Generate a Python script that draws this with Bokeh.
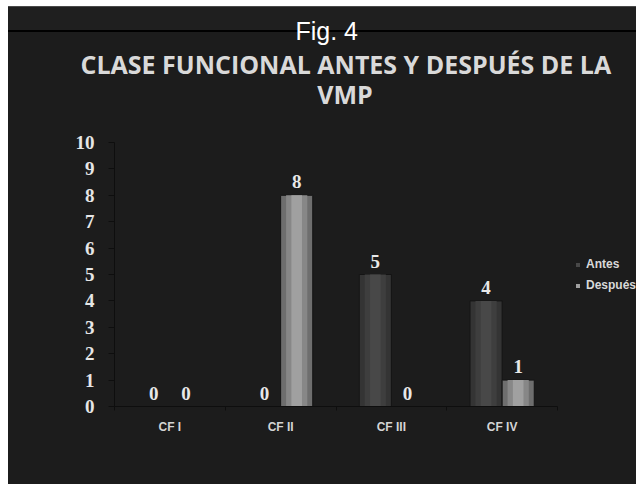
from bokeh.plotting import figure
from bokeh.models import (Range1d, FixedTicker, LinearAxis, Label, Title, Legend, LegendItem,
                          LabelSet, ColumnDataSource)
from bokeh.embed import file_html
from bokeh.resources import INLINE

# ---- data ----
categories = ["CF I", "CF II", "CF III", "CF IV"]
series_names = ["Antes", "Después"]
antes = [0, 0, 5, 4]
despues = [0, 8, 0, 1]
y_ticks = [0, 1, 2, 3, 4, 5, 6, 7, 8, 9, 10]
y_max = 10
fig_label = "Fig. 4"
title_line1 = "CLASE FUNCIONAL ANTES Y DESPUÉS  DE LA"
title_line2 = "VMP"

BG = "#1c1c1c"
W, H = 636, 484
PLOT_LEFT, PLOT_RIGHT = 114, 557   # pixel extent of the category area
PLOT_TOP, PLOT_BOTTOM = 142, 406   # pixel extent of the 0..10 value axis
FRAME_TOP = 80                     # frame extends upward so the second title line fits inside
n = len(categories)
# each category spans 2 units: centers at odd numbers, boundaries at even
centers = [2 * i + 1 for i in range(n)]
bw = 0.58
x_antes = [c - bw / 2 for c in centers]
x_desp = [c + bw / 2 for c in centers]
x_end = 2 * n * (W - PLOT_LEFT) / (PLOT_RIGHT - PLOT_LEFT)
y_end = y_max * (PLOT_BOTTOM - FRAME_TOP) / (PLOT_BOTTOM - PLOT_TOP)

p = figure(width=W, height=H, output_backend="svg", toolbar_location=None,
           x_range=Range1d(0, x_end), y_range=Range1d(0, y_end),
           background_fill_color=None, border_fill_color=None, outline_line_color=None,
           min_border_left=PLOT_LEFT, min_border_right=0, min_border_bottom=H - PLOT_BOTTOM,
           min_border_top=FRAME_TOP, x_axis_location=None, title_location=None)
p.grid.visible = False
# page-like backdrop: white edge strips and dark header band
p.styles = {
    "background-image": (
        "linear-gradient(to right, #ffffff 0px, #ffffff 8px, rgba(0,0,0,0) 8px), "
        "linear-gradient(to bottom, #ffffff 0px, #ffffff 6px, #4a4a4a 6px, #4a4a4a 7px, "
        "#1f1f1f 7px, #1f1f1f 30px, #000000 30px, #000000 32px, #1c1c1c 32px)"
    ),
    "background-color": BG,
}

# bars with simple shading layers
layers_antes = [(1.0, "#343434"), (0.66, "#3e3e3e"), (0.33, "#484848")]
layers_desp = [(1.0, "#6e6e6e"), (0.66, "#878787"), (0.33, "#a0a0a0")]
src = ColumnDataSource(dict(xa=x_antes, xd=x_desp, a=antes, d=despues))
ra = rd = None
for k, (f, col) in enumerate(layers_antes):
    ra = p.vbar(x="xa", top="a", width=bw * f, bottom=0, source=src, fill_color=col,
                line_color="#141414" if k == 0 else None, line_width=1)
for k, (f, col) in enumerate(layers_desp):
    rd = p.vbar(x="xd", top="d", width=bw * f, bottom=0, source=src, fill_color=col,
                line_color="#141414" if k == 0 else None, line_width=1)

# value labels
lab_src = ColumnDataSource(dict(x=x_antes + x_desp, y=antes + despues,
                                t=[str(v) for v in antes + despues]))
labels = LabelSet(x="x", y="y", text="t", source=lab_src, y_offset=7,
                  text_align="center", text_baseline="bottom",
                  text_font="Liberation Serif", text_font_style="bold",
                  text_font_size="19px", text_color="#e8e8e8")
p.add_layout(labels)

# y axis
ya = p.yaxis[0]
ya.ticker = FixedTicker(ticks=y_ticks)
ya.bounds = (0, y_max)
ya.major_label_text_font = "Liberation Serif"
ya.major_label_text_font_style = "bold"
ya.major_label_text_font_size = "19px"
ya.major_label_text_color = "#e6e6e6"
ya.axis_line_color = "#0e0e0e"
ya.major_tick_line_color = "#0e0e0e"
ya.major_tick_out = 6
ya.major_tick_in = 0
ya.minor_tick_line_color = None
ya.major_label_standoff = 14

# x axis: boundary ticks
ax_ticks = LinearAxis(ticker=FixedTicker(ticks=list(range(0, 2 * n + 1, 2))),
                      bounds=(0, 2 * n),
                      major_label_overrides={i: "" for i in range(0, 2 * n + 1, 2)},
                      major_label_text_font_size="0px",
                      axis_line_color="#0e0e0e", major_tick_line_color="#0e0e0e",
                      major_tick_out=4, major_tick_in=0, minor_tick_line_color=None,
                      major_label_standoff=0)
p.add_layout(ax_ticks, "below")
# x axis: category labels
ax_labels = LinearAxis(ticker=FixedTicker(ticks=centers), bounds=(0, 2 * n),
                       major_label_overrides={c: cat for c, cat in zip(centers, categories)},
                       axis_line_color=None, major_tick_line_color=None, minor_tick_line_color=None,
                       major_label_text_font="Liberation Sans", major_label_text_font_style="bold",
                       major_label_text_font_size="12px", major_label_text_color="#d4d4d4",
                       major_label_standoff=3)
p.add_layout(ax_labels, "below")

# legend (inside the extended frame, right of the bars)
legend = Legend(items=[LegendItem(label=series_names[0], renderers=[ra]),
                       LegendItem(label=series_names[1], renderers=[rd])],
                location=(575 - PLOT_LEFT, PLOT_BOTTOM - 292), background_fill_alpha=0,
                border_line_color=None,
                label_text_color="#d9d9d9", label_text_font="Liberation Sans",
                label_text_font_style="bold", label_text_font_size="12px",
                glyph_width=5, glyph_height=5, label_standoff=6, spacing=7,
                label_height=14, padding=0, margin=0)
p.add_layout(legend)

# titles: first two lines in the top panel (left-aligned with pixel offsets), "VMP" inside frame
t_line1 = Title(text=title_line1, align="left", offset=80 - PLOT_LEFT, standoff=0,
                text_font="Open Sans", text_font_size="25px", text_font_style="bold",
                text_color="#d9d9d9")
t_fig = Title(text=fig_label, align="left", offset=295 - PLOT_LEFT, standoff=0,
              text_font="Liberation Sans", text_font_size="25px", text_font_style="normal",
              text_color="#ffffff")
p.add_layout(t_line1, "above")
p.add_layout(t_fig, "above")

p.add_layout(Label(x=344.5 - PLOT_LEFT, y=PLOT_BOTTOM - 93, x_units="screen", y_units="screen",
                   text=title_line2, text_align="center", text_baseline="middle",
                   text_font="Open Sans", text_font_size="25px", text_font_style="bold",
                   text_color="#d9d9d9"))

open("out.html", "w").write(file_html(p, INLINE))
